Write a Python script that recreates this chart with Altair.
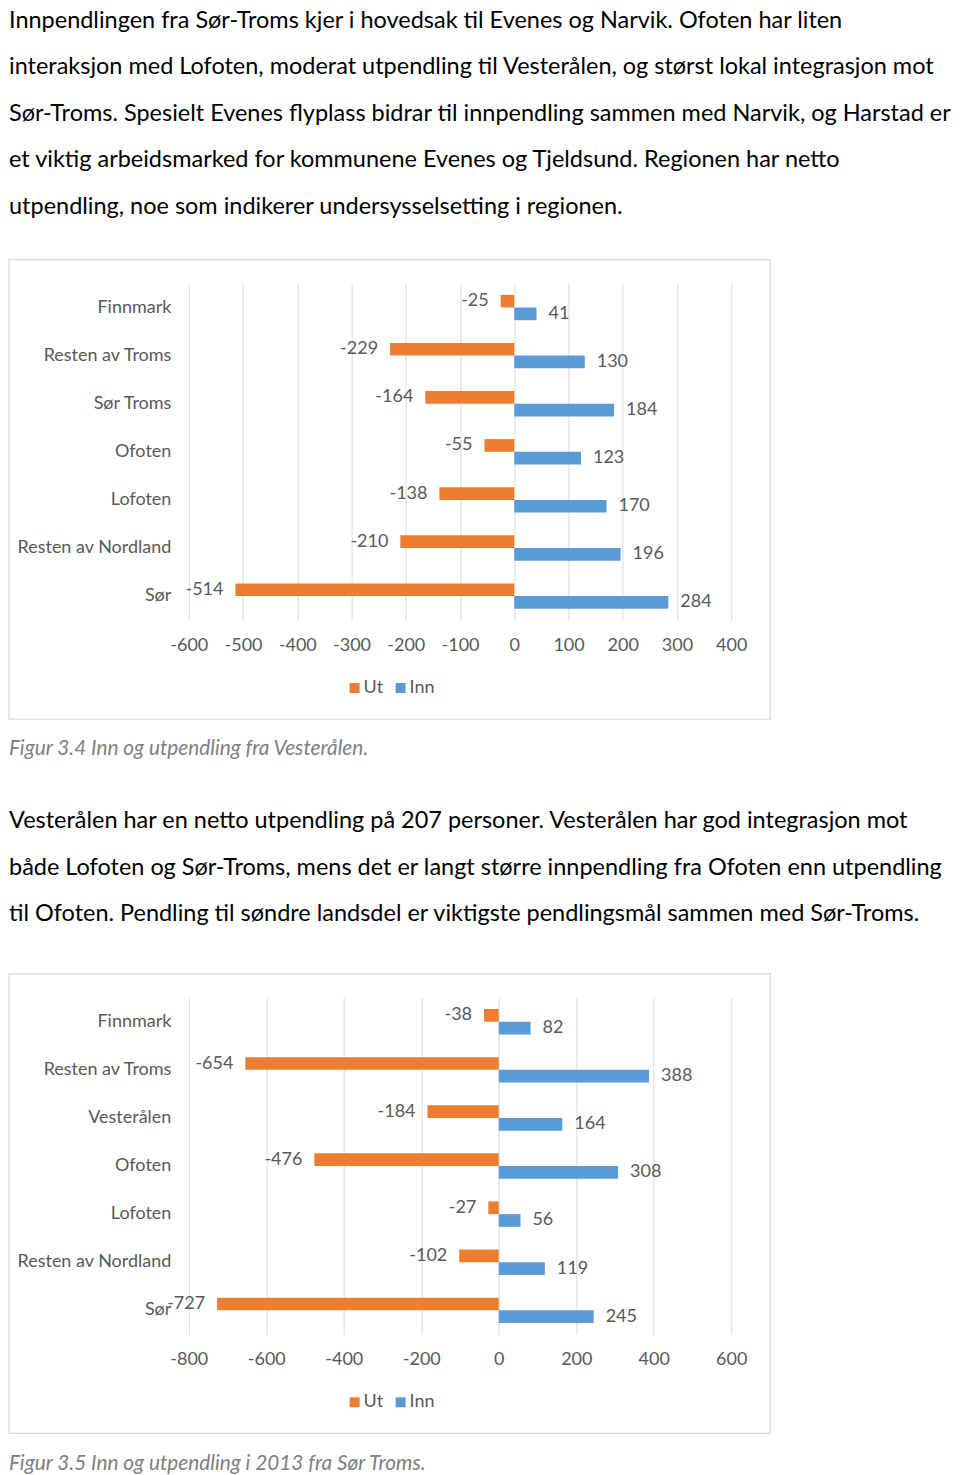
import altair as alt
import pandas as pd

# ---------------- data ----------------
para1_lines = [
    "Innpendlingen fra Sør-Troms kjer i hovedsak til Evenes og Narvik. Ofoten har liten",
    "interaksjon med Lofoten, moderat utpendling til Vesterålen, og størst lokal integrasjon mot",
    "Sør-Troms. Spesielt Evenes flyplass bidrar til innpendling sammen med Narvik, og Harstad er",
    "et viktig arbeidsmarked for kommunene Evenes og Tjeldsund. Regionen har netto",
    "utpendling, noe som indikerer undersysselsetting i regionen.",
]
caption1 = "Figur 3.4 Inn og utpendling fra Vesterålen."
para2_lines = [
    "Vesterålen har en netto utpendling på 207 personer. Vesterålen har god integrasjon mot",
    "både Lofoten og Sør-Troms, mens det er langt større innpendling fra Ofoten enn utpendling",
    "til Ofoten. Pendling til søndre landsdel er viktigste pendlingsmål sammen med Sør-Troms.",
]
caption2 = "Figur 3.5 Inn og utpendling i 2013 fra Sør Troms."

series_names = ["Ut", "Inn"]

cats1 = ["Finnmark", "Resten av Troms", "Sør Troms", "Ofoten", "Lofoten",
         "Resten av Nordland", "Sør"]
ut1 = [-25, -229, -164, -55, -138, -210, -514]
inn1 = [41, 130, 184, 123, 170, 196, 284]
ticks1 = [-600, -500, -400, -300, -200, -100, 0, 100, 200, 300, 400]

cats2 = ["Finnmark", "Resten av Troms", "Vesterålen", "Ofoten", "Lofoten",
         "Resten av Nordland", "Sør"]
ut2 = [-38, -654, -184, -476, -27, -102, -727]
inn2 = [82, 388, 164, 308, 56, 119, 245]
ticks2 = [-800, -600, -400, -200, 0, 200, 400, 600]

# ---------------- style ----------------
FONT = "Lato"
GRAY = "#595959"
GRID = "#d9d9d9"
COLORS = ["#ED7D31", "#5B9BD5"]
W, H = 543, 337
LBL = 18
BODY = 23.5


def make_chart(cats, ut, inn, ticks, para_lines, para_y, caption):
    n = len(cats)
    df = pd.DataFrame({
        "cat": cats + cats,
        "series": ["Ut"] * n + ["Inn"] * n,
        "val": ut + inn,
        "lab": [str(v) for v in ut + inn],
    })
    one = pd.DataFrame({"k": [0]})

    x = alt.X("val:Q",
              scale=alt.Scale(domain=[ticks[0], ticks[-1]], nice=False, zero=False),
              axis=alt.Axis(values=ticks, title=None, ticks=False, tickSize=0, domain=False,
                            grid=True, gridColor=GRID, gridWidth=1,
                            labelPadding=16, labelFontSize=LBL, labelColor=GRAY,
                            labelFlush=False, labelOverlap=False, labelFont=FONT,
                            labelExpr="'' + datum.value"))
    y = alt.Y("cat:N", sort=cats,
              scale=alt.Scale(paddingInner=0.472, paddingOuter=0.236),
              axis=alt.Axis(title=None, ticks=False, tickSize=0, domain=False, grid=False,
                            labelPadding=18, labelFontSize=LBL, labelColor=GRAY,
                            labelFont=FONT, labelLimit=300))
    yo = alt.YOffset("series:N", sort=series_names,
                     scale=alt.Scale(paddingInner=0, paddingOuter=0))

    bars = alt.Chart(df).mark_bar().encode(
        x=x, y=y, yOffset=yo,
        color=alt.Color("series:N",
                        scale=alt.Scale(domain=series_names, range=COLORS),
                        legend=alt.Legend(orient="none", legendX=157, legendY=396,
                                          direction="horizontal", title=None,
                                          symbolType="square", symbolSize=100,
                                          symbolStrokeWidth=0,
                                          labelFontSize=LBL, labelColor=GRAY,
                                          labelFont=FONT,
                                          columnPadding=8, labelOffset=0, padding=0)),
    )
    ut_text = alt.Chart(df).transform_filter("datum.series == 'Ut'").mark_text(
        align="right", baseline="middle", dx=-12, fontSize=LBL, color=GRAY, font=FONT
    ).encode(x=x, y=y, yOffset=yo, text="lab:N")
    inn_text = alt.Chart(df).transform_filter("datum.series == 'Inn'").mark_text(
        align="left", baseline="middle", dx=12, fontSize=LBL, color=GRAY, font=FONT
    ).encode(x=x, y=y, yOffset=yo, text="lab:N")

    border = alt.Chart(one).mark_rect(fill="transparent", stroke=GRID, strokeWidth=1.25).encode(
        x=alt.value(-180), x2=alt.value(582), y=alt.value(-24), y2=alt.value(436))
    para = alt.Chart(one).mark_text(
        align="left", baseline="alphabetic", fontSize=BODY, lineHeight=46.5,
        color="#000000", font=FONT
    ).encode(x=alt.value(-180), y=alt.value(para_y), text=alt.value(para_lines))
    cap = alt.Chart(one).mark_text(
        align="left", baseline="alphabetic", fontSize=20.8, fontStyle="italic",
        color="#808080", font=FONT
    ).encode(x=alt.value(-180), y=alt.value(472.5), text=alt.value(caption))

    return alt.layer(border, para, cap, bars, ut_text, inn_text).properties(width=W, height=H)


c1 = make_chart(cats1, ut1, inn1, ticks1, para1_lines, -256, caption1)
c2 = make_chart(cats2, ut2, inn2, ticks2, para2_lines, -169.5, caption2)

chart = alt.vconcat(c1, c2, spacing=378, bounds="flush").resolve_legend(
    color="independent"
).properties(padding=0).configure(font=FONT).configure_view(stroke=None)

chart.save("out.html", embed_options={"renderer": "svg", "actions": False})
